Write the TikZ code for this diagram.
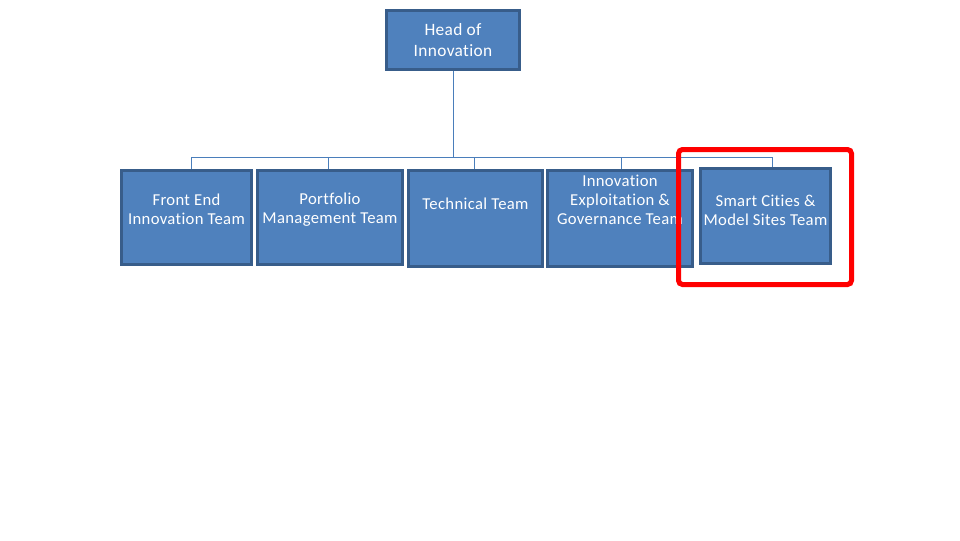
\documentclass[tikz,border=0pt]{standalone}
\usepackage{fontspec}
\setmainfont{Carlito}[Ligatures=NoCommon,LetterSpace=2]
\usetikzlibrary{backgrounds}
\definecolor{boxfill}{HTML}{4F81BD}
\definecolor{boxline}{HTML}{385D8A}
\definecolor{linkline}{HTML}{4A7EBB}
\begin{document}
\begin{tikzpicture}[x=0.75pt,y=-0.75pt,
    orgbox/.style={draw=boxline,fill=boxfill,line width=2.25pt,inner sep=0pt},
    teamtext/.style={text=white,align=center,font=\fontsize{12.5}{14.25}\selectfont},
    link/.style={draw=linkline,line width=0.75pt}]
  \useasboundingbox (0,0) rectangle (960,540);

  \node[orgbox,minimum width=99.75pt,minimum height=44.25pt,text=white,align=center,
        font=\fontsize{13}{15.5}\selectfont] (head) at (453,40) {Head of\\Innovation};

  \node[orgbox,minimum width=97pt,minimum height=70.5pt,
        label={[teamtext,yshift=6.2pt]center:{Front End\\Innovation Team}}] (frontend) at (186.5,217.5) {};
  \node[orgbox,minimum width=108.75pt,minimum height=70.5pt,
        label={[teamtext,yshift=6pt]center:{Portfolio\\Management Team}}] (portfolio) at (330,217.5) {};
  \node[orgbox,minimum width=100.5pt,minimum height=72pt,
        label={[teamtext,yshift=10.9pt]center:{Technical Team}}] (technical) at (475.5,218.5) {};
  \node[orgbox,minimum width=108.75pt,minimum height=72pt,
        label={[teamtext,yshift=14.25pt]center:{Innovation\\Exploitation \&\\Governance Team}}] (exploit) at (620,218.5) {};
  \node[orgbox,minimum width=97.5pt,minimum height=71.25pt,
        label={[teamtext,yshift=4.5pt]center:{Smart Cities \&\\Model Sites Team}}] (smartcities) at (765.5,216) {};

  \begin{scope}[on background layer]
    \coordinate (bus) at (453,157);
    \draw[link] (head.south) -- (bus);
    \foreach \t/\dx in {frontend/4.1,portfolio/-1.5,technical/-0.4,exploit/0.75,smartcities/4.9}
      \draw[link] (bus) -| ([xshift=\dx pt]\t.north);
  \end{scope}

  \draw[red,line width=3.75pt,rounded corners=3pt] (678.5,149.5) rectangle (851.5,284.5);
\end{tikzpicture}
\end{document}
